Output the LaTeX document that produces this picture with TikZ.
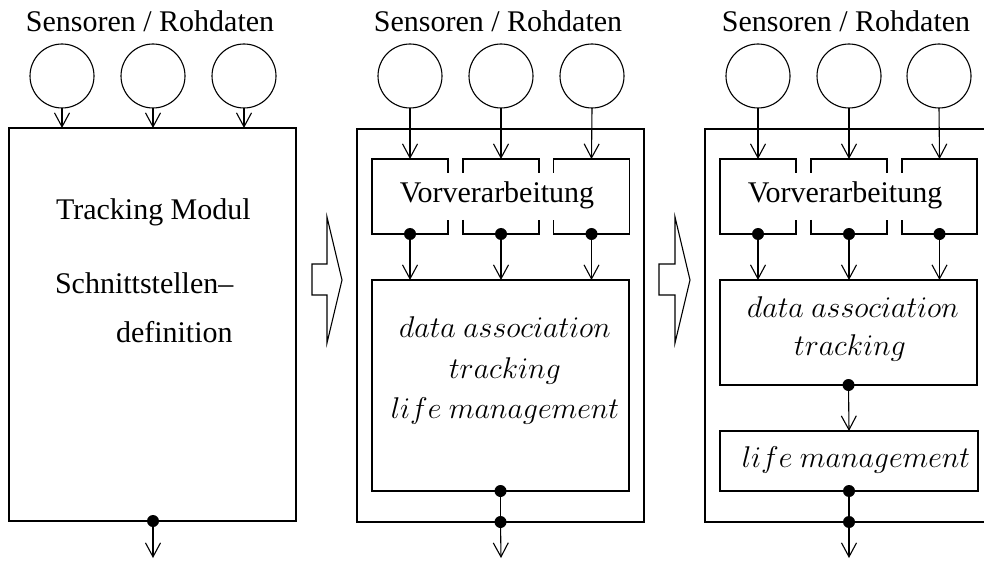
\RequirePackage{fix-cm}
\documentclass[tikz,border=0pt]{standalone}
\usepackage{fontspec}
\setmainfont{Liberation Serif}
\usetikzlibrary{arrows.meta}
\begin{document}
\begin{tikzpicture}[x=1pt,y=-1pt,line width=1.1pt,
  every node/.style={font=\fontsize{30}{36}\selectfont,inner sep=0pt,outer sep=0pt},
  sensor/.style={circle,draw,minimum size=64pt},
  dot/.style={circle,fill,minimum size=12pt,inner sep=0pt},
  arr/.style={-{Straight Barb[length=14pt,width=15pt]}},
  frame/.style={draw,rectangle},
  vbox/.style={rectangle,minimum width=76pt,minimum height=75pt},
  blockarrow/.style={draw,line join=miter}
]
\useasboundingbox (0,0) rectangle (984,561);
\clip (0,0) rectangle (984,561);

% ---------------- Panel 1 ----------------
\node[anchor=base] (t1) at (150,32) {Sensoren / Rohdaten};
\node[sensor] (s1a) at (62,76) {};
\node[sensor] (s1b) at (153,76) {};
\node[sensor] (s1c) at (244,76) {};
\node[frame,minimum width=287pt,minimum height=393pt] (m1) at (152.5,324.5) {};
\foreach \n in {a,b,c}{
  \draw[arr] (s1\n.south) -- (s1\n.south |- m1.north);
}
\node[anchor=base west] (tm) at (56,220) {Tracking Modul};
\node[anchor=base west] (sd1) at (55,293) {Schnittstellen--};
\node[anchor=base west] (sd2) at (116,342) {definition};
\node[dot] (d1) at (153,521) {};
\coordinate (e1) at (153,558);
\draw[arr] (d1.center) -- (e1);

% block arrow 1
\draw[blockarrow] (312,264) -- (327,264) -- (327,217) -- (342,280) -- (327,343) -- (327,295) -- (312,295) -- cycle;

% ---------------- Panel 2 ----------------
\node[anchor=base] (t2) at (498,32) {Sensoren / Rohdaten};
\node[sensor] (s2a) at (410,76) {};
\node[sensor] (s2b) at (501,76) {};
\node[sensor] (s2c) at (592,76) {};
\node[frame,minimum width=287pt,minimum height=393pt] (m2) at (500.5,325.5) {};
\node[vbox] (v2a) at (410,196.5) {};
\node[vbox] (v2b) at (501,196.5) {};
\node[vbox] (v2c) at (591.5,196.5) {};
\draw ([yshift=-14pt]v2a.north east) -- (v2a.north east) -- (v2a.north west) -- (v2a.south west) -- (v2a.south east) -- ([yshift=14pt]v2a.south east);
\draw ([yshift=-14pt]v2b.north west) -- (v2b.north west) -- (v2b.north east) -- ([yshift=-14pt]v2b.north east);
\draw ([yshift=14pt]v2b.south west) -- (v2b.south west) -- (v2b.south east) -- ([yshift=14pt]v2b.south east);
\draw ([yshift=-14pt]v2c.north west) -- (v2c.north west) -- (v2c.north east) -- (v2c.south east) -- (v2c.south west) -- ([yshift=14pt]v2c.south west);
\node[anchor=base] (vv2) at (497,203) {Vorverarbeitung};
\node[frame,minimum width=257pt,minimum height=211pt] (g2) at (500.5,385.5) {};
\foreach \n in {a,b,c}{
  \draw[arr] (s2\n.south) -- (v2\n.north);
  \node[dot] (p2\n) at (v2\n.south) {};
  \draw[arr] (p2\n.center) -- (p2\n.center |- g2.north);
}
\node[anchor=base] (g2t1) at (505,337) {$data\ association$};
\node[anchor=base] (g2t2) at (505,378) {$tracking$};
\node[anchor=base] (g2t3) at (505,418) {$life\ management$};
\node[dot] (q2) at (g2.south) {};
\node[dot] (r2) at (m2.south) {};
\coordinate (e2) at (501,558);
\draw (q2.center) -- (r2.center);
\draw[arr] (r2.center) -- (e2);

% block arrow 2
\draw[blockarrow] (659,264) -- (675,264) -- (675,217) -- (690,280) -- (675,343) -- (675,295) -- (659,295) -- cycle;

% ---------------- Panel 3 ----------------
\node[anchor=base] (t3) at (846,32) {Sensoren / Rohdaten};
\node[sensor] (s3a) at (758,76) {};
\node[sensor] (s3b) at (849,76) {};
\node[sensor] (s3c) at (939,76) {};
\node[frame,minimum width=295pt,minimum height=393pt] (m3) at (852.5,325.5) {};
\node[vbox] (v3a) at (758,196.5) {};
\node[vbox] (v3b) at (849,196.5) {};
\node[vbox,minimum width=75pt] (v3c) at (939.5,196.5) {};
\draw ([yshift=-14pt]v3a.north east) -- (v3a.north east) -- (v3a.north west) -- (v3a.south west) -- (v3a.south east) -- ([yshift=14pt]v3a.south east);
\draw ([yshift=-14pt]v3b.north west) -- (v3b.north west) -- (v3b.north east) -- ([yshift=-14pt]v3b.north east);
\draw ([yshift=14pt]v3b.south west) -- (v3b.south west) -- (v3b.south east) -- ([yshift=14pt]v3b.south east);
\draw ([yshift=-14pt]v3c.north west) -- (v3c.north west) -- (v3c.north east) -- (v3c.south east) -- (v3c.south west) -- ([yshift=14pt]v3c.south west);
\node[anchor=base] (vv3) at (845,203) {Vorverarbeitung};
\node[frame,minimum width=257pt,minimum height=105pt] (g3) at (848.5,332.5) {};
\foreach \n in {a,b,c}{
  \draw[arr] (s3\n.south) -- (v3\n.north);
  \node[dot] (p3\n) at (v3\n.south) {};
  \draw[arr] (p3\n.center) -- (p3\n.center |- g3.north);
}
\node[anchor=base] (g3t1) at (853,317) {$data\ association$};
\node[anchor=base] (g3t2) at (850,355) {$tracking$};
\node[frame,minimum width=258pt,minimum height=60pt] (l3) at (849,461) {};
\node[anchor=base] (l3t) at (856,467) {$life\ management$};
\node[dot] (q3) at (g3.south) {};
\draw[arr] (q3.center) -- (l3.north);
\node[dot] (u3) at (l3.south) {};
\node[dot] (r3) at (849,522) {};
\coordinate (e3) at (849,558);
\draw (u3.center) -- (r3.center);
\draw[arr] (r3.center) -- (e3);
\end{tikzpicture}
\end{document}
